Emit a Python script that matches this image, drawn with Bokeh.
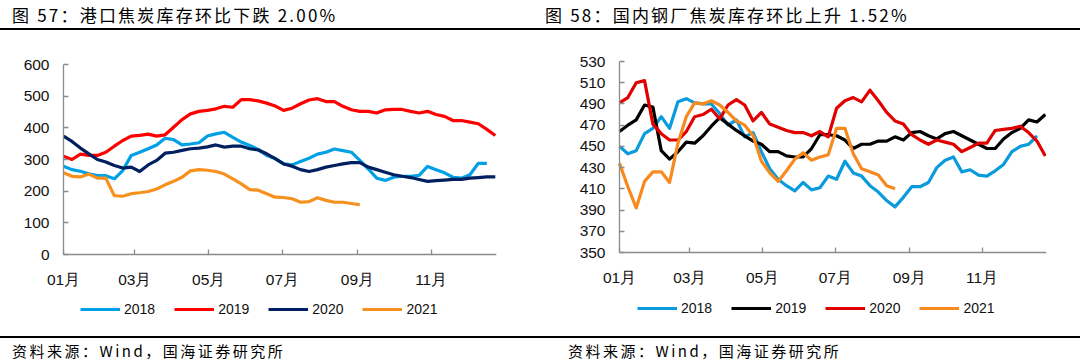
from bokeh.plotting import figure
from bokeh.models import (Range1d, FixedTicker, Legend, LegendItem, Div, ColumnDataSource)
from bokeh.layouts import column, row
from bokeh.embed import file_html
from bokeh.resources import INLINE

# ---------------- data ----------------
month_labels = ["01月", "03月", "05月", "07月", "09月", "11月"]
month_start_day = [0, 59, 120, 181, 243, 304]
year_end_day = 358

series_names = ["2018", "2019", "2020", "2021"]

# Fig 57: port coke inventory (weekly, from first week of Jan)
port_2018 = [279, 268, 263, 255, 249, 249, 239, 265, 313, 323, 334, 346, 367, 363, 346, 349,
             353, 374, 381, 386, 370, 355, 344, 332, 313, 303, 286, 283, 294, 304, 317, 323,
             333, 328, 323, 297, 270, 241, 234, 244, 247, 247, 250, 278, 268, 258, 244, 241,
             252, 288, 288]
port_2019 = [310, 300, 317, 313, 313, 323, 342, 360, 374, 376, 380, 374, 378, 402, 426, 444,
             452, 455, 460, 468, 465, 489, 489, 485, 478, 469, 455, 462, 476, 488, 492, 483,
             483, 468, 457, 452, 452, 447, 457, 458, 458, 452, 447, 452, 442, 436, 423, 423,
             418, 413, 395, 376]
port_2020 = [374, 357, 336, 318, 300, 292, 281, 273, 276, 262, 283, 297, 320, 323, 329, 334,
             336, 340, 346, 339, 342, 342, 334, 330, 318, 303, 286, 279, 268, 262, 268, 276,
             281, 286, 290, 290, 276, 268, 260, 252, 247, 243, 237, 231, 233, 235, 237, 237,
             241, 243, 245, 245]
port_2021 = [258, 247, 245, 254, 241, 241, 186, 184, 192, 195, 199, 207, 220, 231, 244, 264,
             268, 266, 262, 254, 239, 223, 205, 203, 192, 181, 180, 176, 165, 167, 179, 171,
             165, 165, 161, 157]

# Fig 58: domestic steel mill coke inventory
mill_2018 = [450, 443, 446, 462, 467, 478, 467, 492, 495, 491, 490, 490, 481, 470, 475, 459,
             463, 445, 429, 419, 413, 408, 416, 409, 411, 422, 419, 436, 425, 422, 413, 407,
             399, 393, 402, 412, 412, 416, 430, 437, 440, 426, 428, 423, 422, 427, 433, 445,
             450, 452, 460]
mill_2019 = [464, 470, 475, 489, 487, 446, 438, 445, 454, 453, 460, 469, 477, 471, 465, 460,
             455, 452, 445, 445, 441, 440, 440, 448, 461, 461, 460, 456, 448, 452, 452, 455,
             455, 459, 456, 463, 464, 460, 457, 462, 464, 460, 456, 452, 448, 448, 457, 463,
             467, 475, 473, 480]
mill_2020 = [491, 496, 510, 512, 471, 462, 456, 456, 464, 478, 480, 485, 476, 489, 494, 489,
             474, 482, 471, 468, 465, 463, 463, 460, 464, 459, 486, 493, 496, 492, 503, 493,
             482, 474, 471, 461, 456, 452, 456, 454, 452, 445, 449, 453, 453, 465, 466, 467,
             469, 463, 455, 441]
mill_2021 = [434, 412, 392, 417, 426, 426, 416, 453, 478, 491, 490, 493, 489, 482, 474, 470,
             460, 436, 425, 417, 427, 438, 444, 437, 440, 442, 467, 467, 443, 429, 426, 423,
             413, 410]

title_57 = "图 57：港口焦炭库存环比下跌 2.00%"
title_58 = "图 58：国内钢厂焦炭库存环比上升 1.52%"
source_text = "资料来源：Wind，国海证券研究所"

port_y_ticks = [0, 100, 200, 300, 400, 500, 600]
mill_y_ticks = [350, 370, 390, 410, 430, 450, 470, 490, 510, 530]

port_colors = ["#00A0E6", "#FF0000", "#002060", "#F7911E"]
mill_colors = ["#0A9BDC", "#000000", "#E00000", "#F7891E"]

# ---------------- helpers ----------------
FONT = "Liberation Sans"
CJK = "Noto Sans CJK SC"
AXIS_COLOR = "#8C8C8C"
PANEL_W = 540
FIG_H = 306


def weekly_days(vals):
    return [7 * i for i in range(len(vals))]


def make_panel(series, colors, y_ticks, geom, legend_xy):
    # geom: (px left of the value axis, plot width px, right border px,
    #        px above the top tick, plot height px)
    left_px, plot_w, right_px, top_px, plot_h = geom
    y_lo, y_hi = y_ticks[0], y_ticks[-1]
    px_per_day = plot_w / year_end_day
    px_per_unit = plot_h / (y_hi - y_lo)
    x_start = -left_px / px_per_day
    y_end = y_hi + top_px / px_per_unit
    y_start = y_end - FIG_H / px_per_unit

    p = figure(width=PANEL_W, height=FIG_H, x_range=Range1d(x_start, year_end_day),
               y_range=Range1d(y_start, y_end),
               output_backend="svg", toolbar_location=None,
               min_border_left=0, min_border_right=right_px, min_border_top=0,
               min_border_bottom=0)
    p.outline_line_color = None
    p.grid.visible = False
    p.background_fill_color = "white"
    p.border_fill_color = "white"

    p.xaxis.ticker = FixedTicker(ticks=month_start_day)
    p.xaxis.major_label_overrides = {d: l for d, l in zip(month_start_day, month_labels)}
    p.xaxis.fixed_location = y_lo
    p.xaxis.bounds = (0, year_end_day)
    p.yaxis.ticker = FixedTicker(ticks=y_ticks)
    p.yaxis.fixed_location = 0
    p.yaxis.bounds = (y_lo, y_hi)
    for ax in (p.xaxis[0], p.yaxis[0]):
        ax.axis_line_color = AXIS_COLOR
        ax.axis_line_width = 1.3
        ax.major_tick_line_color = AXIS_COLOR
        ax.major_tick_line_width = 1.3
        ax.major_tick_in = 5
        ax.major_tick_out = 0
        ax.minor_tick_line_color = None
        ax.major_label_text_font = FONT
        ax.major_label_text_font_size = "15.5px"
        ax.major_label_text_color = "#111111"
    p.yaxis.major_label_standoff = 14
    p.xaxis.major_label_standoff = 16

    items = []
    for name, vals, col in zip(series_names, series, colors):
        src = ColumnDataSource(dict(x=weekly_days(vals), y=vals))
        r = p.line("x", "y", source=src, line_color=col, line_width=3.2, line_join="round")
        items.append(LegendItem(label=name, renderers=[r]))

    leg = Legend(items=items, orientation="horizontal", location=legend_xy,
                 glyph_width=40, glyph_height=16, label_standoff=4, spacing=19,
                 padding=0, margin=0, border_line_color=None,
                 background_fill_alpha=0,
                 label_text_font=FONT, label_text_font_size="14px", label_height=16,
                 label_text_color="#111111")
    p.add_layout(leg, "center")
    return p


p57 = make_panel([port_2018, port_2019, port_2020, port_2021], port_colors,
                 port_y_ticks, (63, 433, 44, 34, 190), (80, 19))
p58 = make_panel([mill_2018, mill_2019, mill_2020, mill_2021], mill_colors,
                 mill_y_ticks, (79, 427, 34, 31, 191), (97, 20))


def title_div(text, pad_left):
    return Div(text=text, width=PANEL_W, height=30, margin=0,
               styles={"font-family": CJK, "font-size": "17px", "letter-spacing": "2.2px",
                       "color": "#000", "padding-left": f"{pad_left}px",
                       "padding-top": "1px", "line-height": "27px",
                       "border-bottom": "2px solid #000", "box-sizing": "border-box",
                       "background": "white", "white-space": "nowrap"})


def source_div(text, pad_left):
    return Div(text=text, width=PANEL_W, height=28, margin=0,
               styles={"font-family": CJK, "font-size": "15px", "letter-spacing": "2.5px",
                       "color": "#000", "padding-left": f"{pad_left}px", "line-height": "26px",
                       "border-top": "2px solid #000", "box-sizing": "border-box",
                       "background": "white", "white-space": "nowrap"})


layout = column(
    row(title_div(title_57, 12), title_div(title_58, 5), spacing=0),
    row(p57, p58, spacing=0),
    row(source_div(source_text, 12), source_div(source_text, 28), spacing=0),
    spacing=0,
)

open("out.html", "w").write(file_html(layout, INLINE))
